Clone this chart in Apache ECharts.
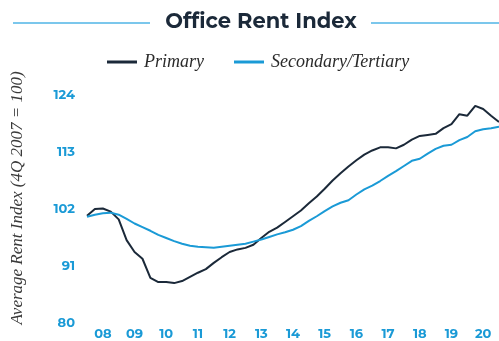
<!DOCTYPE html>
<html>
<head>
<meta charset="utf-8">
<style>
  html, body { margin: 0; padding: 0; background: #ffffff; }
  #chart { width: 499px; height: 341px; }
</style>
<script src="https://cdn.jsdelivr.net/npm/echarts@6/dist/echarts.min.js"></script>
</head>
<body>
<div id="chart"></div>
<script>
// Quarterly periods, 4Q 2007 through 4Q 2020
const quarters = [
  '4Q07',
  '1Q08','2Q08','3Q08','4Q08',
  '1Q09','2Q09','3Q09','4Q09',
  '1Q10','2Q10','3Q10','4Q10',
  '1Q11','2Q11','3Q11','4Q11',
  '1Q12','2Q12','3Q12','4Q12',
  '1Q13','2Q13','3Q13','4Q13',
  '1Q14','2Q14','3Q14','4Q14',
  '1Q15','2Q15','3Q15','4Q15',
  '1Q16','2Q16','3Q16','4Q16',
  '1Q17','2Q17','3Q17','4Q17',
  '1Q18','2Q18','3Q18','4Q18',
  '1Q19','2Q19','3Q19','4Q19',
  '1Q20','2Q20','3Q20','4Q20'
];

// Average rent index, 4Q 2007 = 100
const primary = [
  100.7, 102.0, 102.1, 101.5, 100.0, 96.0, 93.7, 92.4, 88.7, 87.9,
  87.9, 87.7, 88.1, 88.9, 89.7, 90.4, 91.6, 92.7, 93.7, 94.2,
  94.5, 95.1, 96.4, 97.6, 98.4, 99.5, 100.6, 101.7, 103.1, 104.4,
  105.9, 107.5, 108.9, 110.2, 111.4, 112.5, 113.3, 113.9, 113.9, 113.7,
  114.4, 115.4, 116.1, 116.3, 116.5, 117.6, 118.4, 120.3, 120.0, 121.9,
  121.3, 120.0, 118.8
];

const secondaryTertiary = [
  100.5, 100.9, 101.2, 101.3, 100.9, 100.1, 99.2, 98.5, 97.8, 97.0,
  96.4, 95.8, 95.3, 94.9, 94.7, 94.6, 94.5, 94.7, 94.9, 95.1,
  95.3, 95.7, 96.1, 96.6, 97.1, 97.5, 98.0, 98.7, 99.7, 100.6,
  101.6, 102.5, 103.2, 103.7, 104.8, 105.8, 106.5, 107.4, 108.4, 109.3,
  110.3, 111.3, 111.7, 112.7, 113.6, 114.2, 114.4, 115.3, 115.9, 117.0,
  117.4, 117.6, 117.9
];

// Y-axis scale
const yMin = 80;
const yMax = 124;
const yStep = 11;

const navy = '#1b2939';
const blue = '#1a9ad6';
const rule = '#4fb5e6';
const serif = '"Liberation Serif", "DejaVu Serif", serif';
const sans = 'Montserrat, "Noto Sans", sans-serif';

const chart = echarts.init(document.getElementById('chart'), null, { renderer: 'canvas' });

chart.setOption({
  animation: false,
  backgroundColor: '#ffffff',
  graphic: [
    // heading with rules on both sides
    { type: 'line', shape: { x1: 13, y1: 23, x2: 150, y2: 23 }, style: { stroke: rule, lineWidth: 1.5 } },
    { type: 'line', shape: { x1: 371, y1: 23, x2: 499, y2: 23 }, style: { stroke: rule, lineWidth: 1.5 } },
    {
      type: 'text',
      x: 261, y: 22,
      style: {
        text: 'Office Rent Index',
        align: 'center',
        verticalAlign: 'middle',
        fontFamily: sans,
        fontWeight: 'bold',
        fontSize: 21,
        fill: navy
      }
    },
    // y-axis title
    {
      type: 'text',
      x: 18, y: 198,
      rotation: Math.PI / 2,
      style: {
        text: 'Average Rent Index (4Q 2007 = 100)',
        align: 'center',
        verticalAlign: 'middle',
        fontFamily: serif,
        fontStyle: 'italic',
        fontSize: 17,
        fill: '#3a3a3a'
      }
    }
  ],
  legend: {
    top: 48,
    left: 102,
    itemWidth: 30,
    itemHeight: 3,
    itemGap: 30,
    icon: 'rect',
    textStyle: {
      fontFamily: serif,
      fontStyle: 'italic',
      fontSize: 18,
      color: '#2b2b2b',
      padding: [0, 0, 0, 2]
    },
    data: ['Primary', 'Secondary/Tertiary']
  },
  grid: {
    left: 87,
    right: 0,
    top: 95,
    bottom: 18,
    containLabel: false
  },
  xAxis: {
    type: 'category',
    data: quarters,
    boundaryGap: false,
    axisLine: { show: false },
    axisTick: { show: false },
    splitLine: { show: false },
    axisLabel: {
      interval: function (index) { return index % 4 === 2; },
      formatter: function (v) { return v.slice(2); },
      margin: 5,
      color: blue,
      fontFamily: sans,
      fontWeight: 'bold',
      fontSize: 13
    }
  },
  yAxis: {
    type: 'value',
    min: yMin,
    max: yMax,
    interval: yStep,
    axisLine: { show: false },
    axisTick: { show: false },
    splitLine: { show: false },
    axisLabel: {
      margin: 12,
      color: blue,
      fontFamily: sans,
      fontWeight: 'bold',
      fontSize: 13
    }
  },
  series: [
    {
      name: 'Primary',
      type: 'line',
      data: primary,
      showSymbol: false,
      symbol: 'none',
      lineStyle: { color: navy, width: 2 },
      itemStyle: { color: navy }
    },
    {
      name: 'Secondary/Tertiary',
      type: 'line',
      data: secondaryTertiary,
      showSymbol: false,
      symbol: 'none',
      lineStyle: { color: blue, width: 2 },
      itemStyle: { color: blue }
    }
  ]
});
</script>
</body>
</html>
